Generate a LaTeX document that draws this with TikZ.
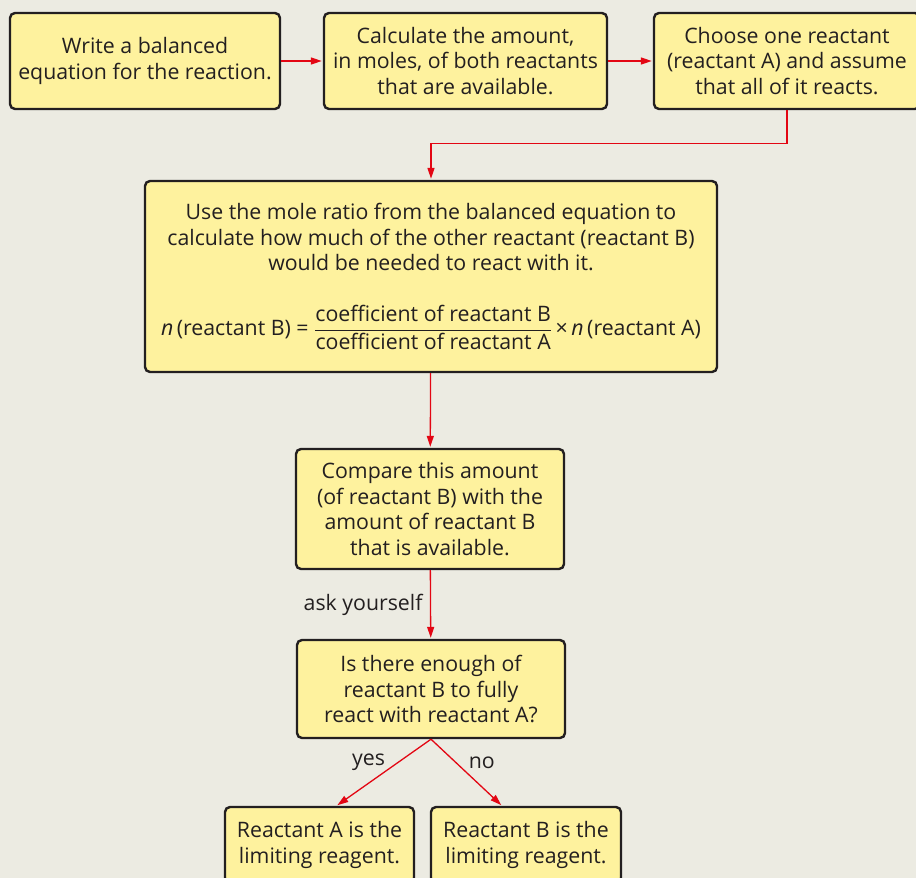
\documentclass[tikz,border=0pt]{standalone}
\usepackage{fontspec}
\setmainfont{Open Sans}
\usepackage{amsmath}
\usetikzlibrary{arrows.meta,positioning,calc}
\definecolor{pgbeige}{HTML}{ECEBE2}
\definecolor{pgyellow}{HTML}{FEF29E}
\definecolor{pgink}{HTML}{231F20}
\definecolor{pgred}{HTML}{E30613}

\begin{document}
\begin{tikzpicture}[x=1pt,y=-1pt,>={Triangle[length=11pt,width=7pt]},
  stepbox/.style={rectangle, rounded corners=5pt, draw=pgink, line width=2.4pt,
    fill=pgyellow, align=center, text=pgink, inner sep=3pt,
    font=\fontsize{21.3}{25.5}\selectfont},
  flow/.style={->, draw=pgred, line width=1.3pt, shorten >=1pt},
  tag/.style={text=pgink, font=\fontsize{21.3}{25}\selectfont}]
\fill[pgbeige] (0,0) rectangle (916,878);
\useasboundingbox (0,0) rectangle (916,878);

% top row
\node[stepbox, minimum width=270pt, minimum height=96pt] (write) at (145,61)
  {Write a balanced\\equation for the reaction.};
\node[stepbox, minimum width=283pt, minimum height=96pt] (calc) at (465.5,61)
  {Calculate the amount,\\in moles, of both reactants\\that are available.};
\node[stepbox, minimum width=266pt, minimum height=96pt] (choose) at (787,61)
  {Choose one reactant\\(reactant A) and assume\\that all of it reacts.};

% mole ratio step
\node[stepbox, minimum width=572pt, minimum height=191pt] (ratio) at (431,276.5)
  {Use the mole ratio from the balanced equation to\\
   calculate how much of the other reactant (reactant B)\\
   would be needed to react with it.\\[33pt]
   \textit{n}\,(reactant B) = $\dfrac{\text{coefficient of reactant B}}{\text{coefficient of reactant A}}$\,×\,\textit{n}\,(reactant A)};

\node[stepbox, minimum width=268pt, minimum height=120pt] (compare) at (430,509)
  {Compare this amount\\(of reactant B) with the\\amount of reactant B\\that is available.};
\node[stepbox, minimum width=268pt, minimum height=98pt] (enough) at (431,689)
  {Is there enough of\\reactant B to fully\\react with reactant A?};

% outcomes
\node[stepbox, minimum width=189pt, minimum height=76pt] (limA) at (319.5,845)
  {Reactant A is the\\limiting reagent.};
\node[stepbox, minimum width=190pt, minimum height=76pt] (limB) at (526,845)
  {Reactant B is the\\limiting reagent.};

% connectors
\draw[flow] (write) -- (calc);
\draw[flow] (calc) -- (choose);
\draw[flow] (choose.south) -- ++(0,33) -| (ratio.north);
\draw[flow] (ratio) -- (compare);
\draw[flow] (compare) -- node[tag, left=4pt] {ask yourself} (enough);
\draw[flow] (enough.south) -- node[tag, pos=0.35, left=9pt] {yes} ($(limA.north)+(17,0)$);
\draw[flow] (enough.south) -- node[tag, pos=0.35, right=9pt] {no} ($(limB.north)+(-24,0)$);
\end{tikzpicture}
\end{document}
